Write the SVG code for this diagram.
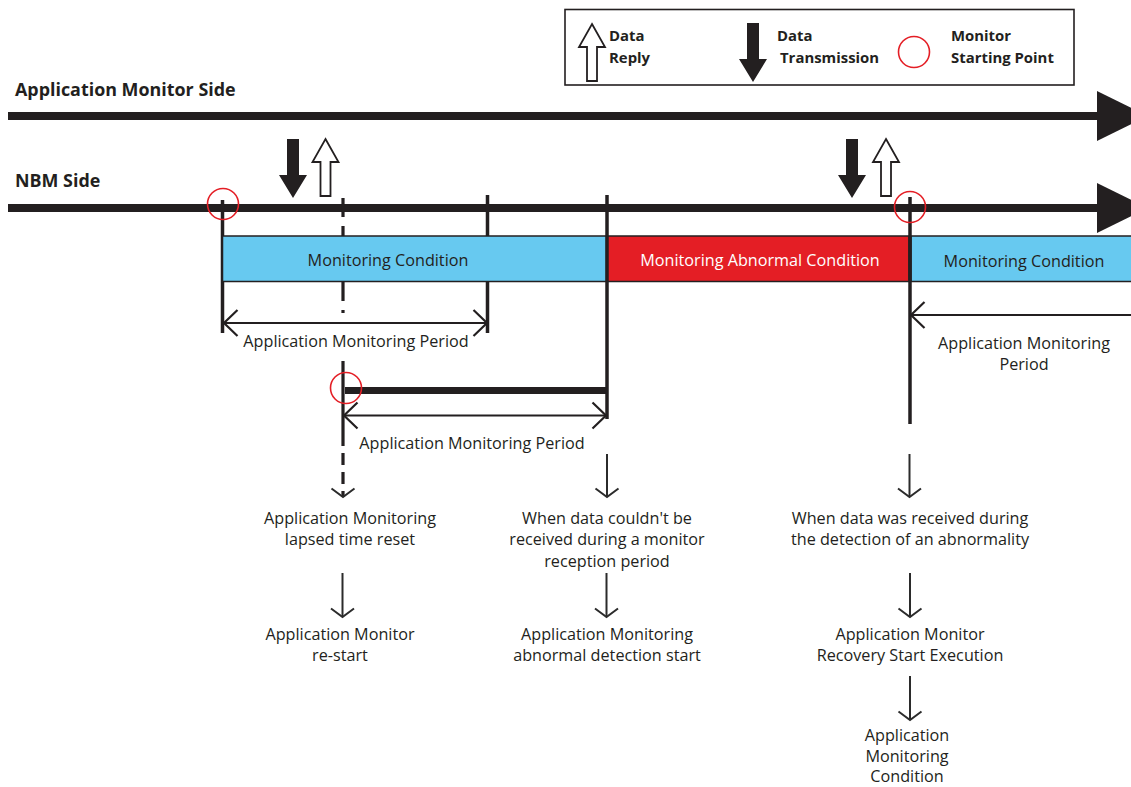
<svg xmlns="http://www.w3.org/2000/svg" width="1131" height="787" viewBox="0 0 1131 787">
<style>
.t{font-family:"Open Sans","Liberation Sans",sans-serif;font-size:16.2px;fill:#231F20}
.c{text-anchor:middle}
.w{fill:#ffffff}
.tb{font-family:"Open Sans","Liberation Sans",sans-serif;font-size:17.9px;font-weight:bold;fill:#231F20}
.lg{font-family:"Open Sans","Liberation Sans",sans-serif;font-size:14.9px;font-weight:bold;fill:#231F20}
.ln{stroke:#231F20;fill:none}
.tl{stroke:#231F20;stroke-width:8;fill:none}
.vt{stroke:#231F20;stroke-width:3.5;fill:none}
.per{stroke:#231F20;stroke-width:2.2;fill:none}
.dn{stroke:#2b2b2b;stroke-width:2;fill:none}
.ms{stroke:#E41E25;stroke-width:1.6;fill:none}
.bar{stroke:#231F20;stroke-width:1.5}
.blue{fill:#67C9F0}
.red{fill:#E41E25}
.tx{fill:#231F20}
.rp{fill:#ffffff;stroke:#231F20;stroke-width:1.8}
</style>
<defs>
<marker id="chevBig" viewBox="0 0 17 30" refX="15" refY="15" markerWidth="17" markerHeight="30" markerUnits="userSpaceOnUse" orient="auto-start-reverse">
<path d="M1.5,2 L15,15 L1.5,28" fill="none" stroke="#231F20" stroke-width="2.2"/>
</marker>
<marker id="chevSm" viewBox="0 0 12 26" refX="10" refY="13" markerWidth="12" markerHeight="26" markerUnits="userSpaceOnUse" orient="auto">
<path d="M1.5,1.5 L10,13 L1.5,24.5" fill="none" stroke="#2b2b2b" stroke-width="2"/>
</marker>
<polygon id="sendArrow" class="tx" points="-6,-59 6,-59 6,-23 14,-23 0,0 -14,-23 -6,-23"/>
<polygon id="replyArrow" class="rp" points="0,0 13,23 5,23 5,57 -5,57 -5,23 -13,23"/>
</defs>

<rect width="1131" height="787" fill="#ffffff"/>

<g id="legend">
<rect x="565" y="9.5" width="509" height="75.5" fill="#ffffff" stroke="#231F20" stroke-width="1.6"/>
<use href="#replyArrow" x="592" y="24"/>
<text class="lg" x="609" y="41">Data</text>
<text class="lg" x="609" y="63">Reply</text>
<use href="#sendArrow" x="753" y="82"/>
<text class="lg" x="777" y="41">Data</text>
<text class="lg" x="780" y="63">Transmission</text>
<circle class="ms" cx="914" cy="52" r="15.5"/>
<text class="lg" x="951" y="41">Monitor</text>
<text class="lg" x="951" y="63">Starting Point</text>
</g>

<g id="side-labels">
<text class="tb" x="15" y="96">Application Monitor Side</text>
<text class="tb" x="15" y="187">NBM Side</text>
</g>

<g id="connectors">
<line class="tl" x1="8" y1="116" x2="1100" y2="116"/>
<polygon class="tx" points="1097,91 1148,116 1097,141"/>
<line class="tl" x1="8" y1="208" x2="1100" y2="208"/>
<polygon class="tx" points="1097,183 1148,208 1097,233"/>
<line class="vt" x1="222.5" y1="200" x2="222.5" y2="333" stroke-width="3"/>
<line class="vt" x1="487.5" y1="195" x2="487.5" y2="333" stroke-width="3"/>
<line class="ln" x1="343" y1="198" x2="343" y2="313" stroke-width="3.2" stroke-dasharray="19 9"/>
<line class="ln" x1="343" y1="361" x2="343" y2="434" stroke-width="3.2"/>
<line class="ln" x1="343" y1="434" x2="343" y2="497" stroke-width="3.2" stroke-dasharray="12 7" marker-end="url(#chevSm)"/>
<line class="per" x1="224" y1="323" x2="487" y2="323" marker-start="url(#chevBig)" marker-end="url(#chevBig)"/>
<line class="ln" x1="345" y1="390.5" x2="607" y2="390.5" stroke-width="7"/>
<line class="per" x1="344" y1="415.5" x2="606" y2="415.5" marker-start="url(#chevBig)" marker-end="url(#chevBig)"/>
<line class="per" x1="911" y1="315" x2="1131" y2="315" marker-start="url(#chevBig)"/>
<line class="dn" x1="607" y1="454" x2="607" y2="497" marker-end="url(#chevSm)"/>
<line class="dn" x1="909.5" y1="454" x2="909.5" y2="497" marker-end="url(#chevSm)"/>
<line class="dn" x1="342.5" y1="573" x2="342.5" y2="617" marker-end="url(#chevSm)"/>
<line class="dn" x1="606.5" y1="573" x2="606.5" y2="617" marker-end="url(#chevSm)"/>
<line class="dn" x1="910" y1="573" x2="910" y2="617" marker-end="url(#chevSm)"/>
<line class="dn" x1="910" y1="676" x2="910" y2="720" marker-end="url(#chevSm)"/>
</g>

<g id="data-arrows">
<use href="#sendArrow" x="293" y="198"/>
<use href="#replyArrow" x="325.5" y="139"/>
<use href="#sendArrow" x="852" y="198"/>
<use href="#replyArrow" x="886" y="139"/>
</g>

<g id="bar-monitoring-1">
<rect class="bar blue" x="222.5" y="236" width="384" height="45.5"/>
<text class="t c" x="388" y="266">Monitoring Condition</text>
</g>
<g id="bar-abnormal">
<rect class="bar red" x="607" y="236" width="302" height="45.5"/>
<text class="t c w" x="760" y="266">Monitoring Abnormal Condition</text>
</g>
<g id="bar-monitoring-2">
<rect class="bar blue" x="911" y="236" width="230" height="45.5"/>
<text class="t c" x="1024" y="267">Monitoring Condition</text>
</g>

<g id="strong-verticals">
<line class="vt" x1="607" y1="195" x2="607" y2="419"/>
<line class="vt" x1="910" y1="197" x2="910" y2="424"/>
</g>

<g id="start-points">
<circle class="ms" cx="223" cy="204" r="15.5"/>
<circle class="ms" cx="910" cy="207" r="15.5"/>
<circle class="ms" cx="346" cy="388" r="15.5"/>
</g>

<g id="period-labels">
<text class="t c" x="356" y="347">Application Monitoring Period</text>
<text class="t c" x="472" y="449">Application Monitoring Period</text>
<text class="t c" x="1024" y="349">Application Monitoring</text>
<text class="t c" x="1024" y="370">Period</text>
</g>

<g id="node-reset">
<text class="t c" x="350" y="524">Application Monitoring</text>
<text class="t c" x="350" y="545">lapsed time reset</text>
</g>
<g id="node-restart">
<text class="t c" x="340" y="640">Application Monitor</text>
<text class="t c" x="340" y="661">re-start</text>
</g>
<g id="node-not-received">
<text class="t c" x="607" y="524">When data couldn't be</text>
<text class="t c" x="607" y="545">received during a monitor</text>
<text class="t c" x="607" y="567">reception period</text>
</g>
<g id="node-abnormal-start">
<text class="t c" x="607" y="640">Application Monitoring</text>
<text class="t c" x="607" y="661">abnormal detection start</text>
</g>
<g id="node-received">
<text class="t c" x="910" y="524">When data was received during</text>
<text class="t c" x="910" y="545">the detection of an abnormality</text>
</g>
<g id="node-recovery">
<text class="t c" x="910" y="640">Application Monitor</text>
<text class="t c" x="910" y="661">Recovery Start Execution</text>
</g>
<g id="node-condition">
<text class="t c" x="907" y="741">Application</text>
<text class="t c" x="907" y="762">Monitoring</text>
<text class="t c" x="907" y="782">Condition</text>
</g>
</svg>
